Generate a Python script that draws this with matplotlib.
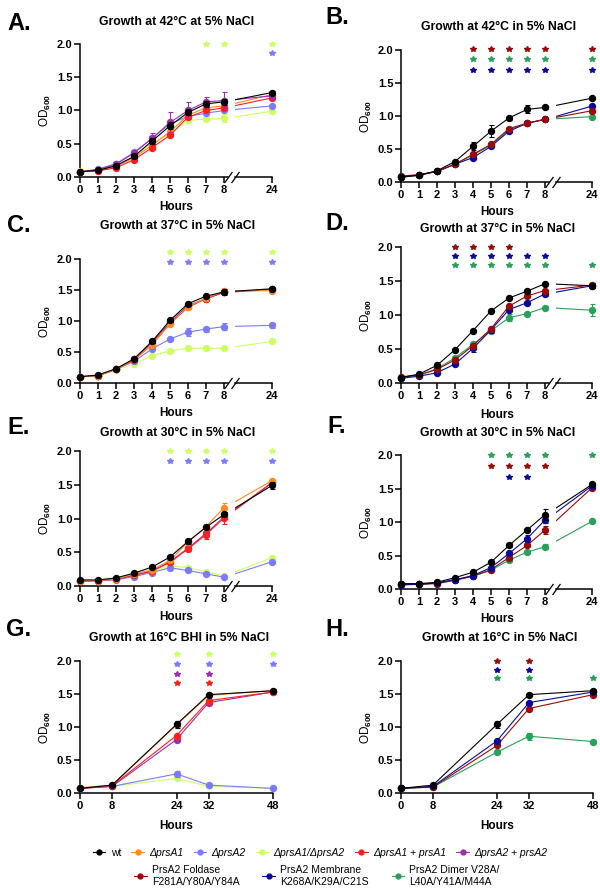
import matplotlib.pyplot as plt
from matplotlib.lines import Line2D
from matplotlib.ticker import FormatStrFormatter

plt.rcParams['font.family'] = ['Liberation Sans', 'DejaVu Sans']
plt.rcParams['font.weight'] = 'bold'
plt.rcParams['mathtext.fontset'] = 'custom'
plt.rcParams['mathtext.rm'] = 'Liberation Sans:bold'
plt.rcParams['mathtext.it'] = 'Liberation Sans:bold'
plt.rcParams['mathtext.bf'] = 'Liberation Sans:bold'

# ---------------- data ----------------
hours = [0, 1, 2, 3, 4, 5, 6, 7, 8, 24]
hours_cold = [0, 8, 24, 32, 48]

strain_labels = {
    "wt": "wt", "d1": "\u0394prsA1", "d2": "\u0394prsA2", "d12": "\u0394prsA1/\u0394prsA2",
    "d1c": "\u0394prsA1 + prsA1", "d2c": "\u0394prsA2 + prsA2",
    "fold": "PrsA2 Foldase\nF281A/Y80A/Y84A",
    "memb": "PrsA2 Membrane\nK268A/K29A/C21S",
    "dimer": "PrsA2 Dimer V28A/\nL40A/Y41A/M44A",
}
colors = {
    "wt": "#000000", "d1": "#FF8A1E", "d2": "#7B7BFF", "d12": "#CCFF66",
    "d1c": "#FF1E1E", "d2c": "#9B2FAE",
    "fold": "#9A0A0A", "memb": "#0A0A99", "dimer": "#2AA05A",
}

# Panel A - 42C, deletion strains
A_vals = {
    "d12": [0.09, 0.10, 0.17, 0.30, 0.51, 0.65, 0.85, 0.87, 0.88, 0.99],
    "d2":  [0.07, 0.12, 0.20, 0.37, 0.58, 0.80, 0.91, 0.96, 1.00, 1.07],
    "d1":  [0.08, 0.10, 0.16, 0.29, 0.48, 0.68, 0.93, 1.04, 1.07, 1.24],
    "d1c": [0.08, 0.09, 0.14, 0.26, 0.44, 0.63, 0.90, 1.00, 1.04, 1.19],
    "d2c": [0.08, 0.11, 0.19, 0.36, 0.58, 0.82, 1.00, 1.13, 1.15, 1.22],
    "wt":  [0.08, 0.10, 0.17, 0.31, 0.54, 0.77, 0.97, 1.10, 1.13, 1.27],
}
A_errs = {
    "d2c": [0, 0, 0.01, 0.02, 0.08, 0.15, 0.13, 0.08, 0.13, 0.02],
    "d12": [0, 0, 0, 0.01, 0.03, 0.03, 0.03, 0.03, 0.06, 0.02],
    "wt":  [0, 0, 0.01, 0.02, 0.05, 0.05, 0.04, 0.04, 0.05, 0.02],
}
A_stars = [("d12", [7, 8, 24]), ("d2", [24])]

# Panel B - 42C, point mutants
B_vals = {
    "dimer": [0.07, 0.10, 0.16, 0.27, 0.41, 0.56, 0.79, 0.89, 0.95, 0.99],
    "memb":  [0.07, 0.11, 0.16, 0.27, 0.37, 0.54, 0.77, 0.89, 0.95, 1.15],
    "fold":  [0.09, 0.11, 0.16, 0.27, 0.42, 0.57, 0.81, 0.89, 0.95, 1.08],
    "wt":    [0.08, 0.10, 0.17, 0.31, 0.54, 0.77, 0.97, 1.10, 1.13, 1.27],
}
B_errs = {"wt": [0, 0, 0.01, 0.03, 0.06, 0.09, 0.03, 0.06, 0.02, 0.02]}
B_stars = [("fold", [4, 5, 6, 7, 8, 24]), ("dimer", [4, 5, 6, 7, 8, 24]),
           ("memb", [4, 5, 6, 7, 8, 24])]

# Panel C - 37C, deletion strains
C_vals = {
    "d12": [0.10, 0.12, 0.21, 0.31, 0.44, 0.52, 0.56, 0.56, 0.56, 0.67],
    "d2":  [0.10, 0.12, 0.22, 0.35, 0.55, 0.71, 0.82, 0.87, 0.91, 0.93],
    "d2c": [0.10, 0.12, 0.22, 0.38, 0.65, 0.98, 1.25, 1.36, 1.46, 1.51],
    "d1c": [0.10, 0.12, 0.22, 0.37, 0.62, 0.96, 1.22, 1.36, 1.47, 1.51],
    "d1":  [0.10, 0.12, 0.22, 0.38, 0.62, 0.95, 1.23, 1.37, 1.48, 1.49],
    "wt":  [0.10, 0.13, 0.23, 0.39, 0.67, 1.01, 1.28, 1.40, 1.47, 1.52],
}
C_errs = {"d2": [0, 0, 0, 0.01, 0.02, 0.02, 0.06, 0.04, 0.05, 0.04],
          "wt": [0, 0, 0, 0.01, 0.02, 0.02, 0.02, 0.02, 0.05, 0.02]}
C_stars = [("d12", [5, 6, 7, 8, 24]), ("d2", [5, 6, 7, 8, 24])]

# Panel D - 37C, point mutants
D_vals = {
    "dimer": [0.08, 0.11, 0.21, 0.37, 0.57, 0.77, 0.96, 1.02, 1.11, 1.07],
    "memb":  [0.07, 0.10, 0.15, 0.28, 0.51, 0.78, 1.08, 1.18, 1.31, 1.43],
    "fold":  [0.09, 0.12, 0.20, 0.34, 0.55, 0.80, 1.13, 1.28, 1.36, 1.44],
    "wt":    [0.08, 0.13, 0.26, 0.49, 0.77, 1.06, 1.25, 1.35, 1.46, 1.43],
}
D_errs = {"dimer": [0, 0, 0, 0.02, 0.02, 0.02, 0.05, 0.02, 0.02, 0.09],
          "memb":  [0, 0, 0, 0.02, 0.05, 0.05, 0.02, 0.02, 0.03, 0.02],
          "wt":    [0, 0, 0, 0.01, 0.01, 0.01, 0.01, 0.03, 0.01, 0.04]}
D_stars = [("fold", [3, 4, 5, 6]), ("memb", [3, 4, 5, 6, 7, 8]),
           ("dimer", [3, 4, 5, 6, 7, 8, 24])]

# Panel E - 30C, deletion strains
E_vals = {
    "d12": [0.08, 0.08, 0.10, 0.15, 0.21, 0.30, 0.27, 0.21, 0.15, 0.42],
    "d2":  [0.07, 0.08, 0.09, 0.14, 0.20, 0.27, 0.23, 0.18, 0.13, 0.36],
    "d2c": [0.08, 0.08, 0.10, 0.16, 0.22, 0.36, 0.56, 0.78, 1.02, 1.53],
    "d1c": [0.07, 0.08, 0.10, 0.16, 0.22, 0.35, 0.55, 0.76, 1.01, 1.53],
    "d1":  [0.08, 0.08, 0.10, 0.18, 0.24, 0.38, 0.65, 0.88, 1.16, 1.56],
    "wt":  [0.09, 0.09, 0.12, 0.19, 0.28, 0.43, 0.66, 0.87, 1.06, 1.49],
}
E_errs = {"d1":  [0, 0, 0, 0, 0.01, 0.02, 0.03, 0.03, 0.07, 0.02],
          "d1c": [0, 0, 0, 0, 0.01, 0.02, 0.03, 0.06, 0.09, 0.02],
          "wt":  [0, 0, 0, 0, 0.01, 0.03, 0.04, 0.02, 0.03, 0.05]}
E_stars = [("d12", [5, 6, 7, 8, 24]), ("d2", [5, 6, 7, 8, 24])]

# Panel F - 30C, point mutants
F_vals = {
    "dimer": [0.07, 0.07, 0.09, 0.14, 0.19, 0.28, 0.43, 0.55, 0.63, 1.01],
    "fold":  [0.07, 0.07, 0.08, 0.13, 0.19, 0.29, 0.47, 0.65, 0.88, 1.51],
    "memb":  [0.06, 0.07, 0.09, 0.14, 0.20, 0.32, 0.53, 0.75, 1.03, 1.54],
    "wt":    [0.08, 0.08, 0.10, 0.17, 0.25, 0.40, 0.65, 0.88, 1.11, 1.56],
}
F_errs = {"wt":    [0, 0, 0, 0.01, 0.01, 0.01, 0.03, 0.03, 0.08, 0.02],
          "fold":  [0, 0, 0, 0, 0, 0.01, 0.02, 0.02, 0.06, 0.02],
          "memb":  [0, 0, 0, 0, 0, 0.01, 0.02, 0.05, 0.05, 0.02],
          "dimer": [0, 0, 0, 0, 0, 0.01, 0.02, 0.02, 0.04, 0.02]}
F_stars = [("dimer", [5, 6, 7, 8, 24]), ("fold", [5, 6, 7, 8]), ("memb", [6, 7])]

# Panel G - 16C BHI, deletion strains
G_vals = {
    "d12": [0.07, 0.10, 0.22, 0.10, 0.07],
    "d2":  [0.07, 0.10, 0.29, 0.12, 0.07],
    "d2c": [0.07, 0.10, 0.81, 1.37, 1.53],
    "d1c": [0.07, 0.11, 0.87, 1.40, 1.53],
    "d1":  [0.08, 0.12, 1.03, 1.48, 1.55],
    "wt":  [0.07, 0.12, 1.04, 1.49, 1.55],
}
G_errs = {"wt": [0, 0.01, 0.05, 0.02, 0.02], "d2": [0, 0, 0.05, 0.02, 0.01]}
G_stars = [("d12", [24, 32, 48]), ("d2", [24, 32, 48]), ("d2c", [24, 32]), ("d1c", [24, 32])]

# Panel H - 16C, point mutants
H_vals = {
    "dimer": [0.07, 0.09, 0.62, 0.86, 0.78],
    "fold":  [0.07, 0.09, 0.72, 1.28, 1.49],
    "memb":  [0.07, 0.10, 0.79, 1.37, 1.53],
    "wt":    [0.07, 0.12, 1.04, 1.49, 1.55],
}
H_errs = {"wt": [0, 0.01, 0.05, 0.02, 0.02], "dimer": [0, 0, 0.02, 0.05, 0.02]}
H_stars = [("fold", [24, 32]), ("memb", [24, 32]), ("dimer", [24, 32, 48])]

titles = {
    "A": "Growth at 42\u00b0C at 5% NaCl", "B": "Growth at 42\u00b0C in 5% NaCl",
    "C": "Growth at 37\u00b0C in 5% NaCl", "D": "Growth at 37\u00b0C in 5% NaCl",
    "E": "Growth at 30\u00b0C in 5% NaCl", "F": "Growth at 30\u00b0C in 5% NaCl",
    "G": "Growth at 16\u00b0C BHI in 5% NaCl", "H": "Growth at 16\u00b0C in 5% NaCl",
}

# ---------------- layout (pixels) ----------------
W, H = 600, 888
fig = plt.figure(figsize=(W / 100, H / 100), dpi=100)


def add_ax(l, r, t, b):
    return fig.add_axes([l / W, 1 - b / H, (r - l) / W, (b - t) / H])


def style(ax):
    for s in ['top', 'right']:
        ax.spines[s].set_visible(False)
    for s in ['left', 'bottom']:
        ax.spines[s].set_linewidth(1.1)
    ax.tick_params(direction='out', length=4, width=1.1, pad=1.5, labelsize=8)
    ax.set_ylim(0, 2)
    ax.set_yticks([0, 0.5, 1.0, 1.5, 2.0])
    ax.yaxis.set_major_formatter(FormatStrFormatter('%.1f'))


def series(ax, x, y, e, c, z, show_marker=True):
    cont = ax.errorbar(x, y, yerr=e, color=c, lw=0.8, marker='o' if show_marker else None,
                       ms=4.3, mec=c, mfc=c, elinewidth=0.8, capsize=1.8,
                       capthick=0.8, zorder=z)
    for a in cont.get_children():
        a.set_clip_on(False)


def stars(axes_for, rows, top, step):
    for i, (k, xs) in enumerate(rows):
        for x in xs:
            ax = axes_for(x)
            ax.plot([x], [top - i * step], ls='none', marker='*', ms=4.0,
                    color=colors[k], clip_on=False, zorder=10)


brk = dict(marker=[(-1, -1.4), (1, 1.4)], markersize=8, ls='none', color='k',
           mec='k', mew=0.9, clip_on=False)


def broken_panel(vals, errs, star_rows, col_x, top, bottom, star_top, star_step):
    l, r, l2, r2 = col_x
    axl = add_ax(l, r, top, bottom)
    axr = add_ax(l2, r2, top, bottom)
    style(axl)
    style(axr)
    axl.set_xlim(0, 8 * (r - l) / 144)
    axl.set_xticks(hours[:9])
    axr.set_xlim(11.5, 24)
    axr.set_xticks([24])
    axr.spines['left'].set_visible(False)
    axr.tick_params(axis='y', left=False, labelleft=False)
    for z, (k, y) in enumerate(vals.items()):
        e = errs.get(k, [0] * 10)
        series(axl, hours[:9], y[:9], e[:9], colors[k], 3 + z)
        axr.plot(hours[8:], y[8:], color=colors[k], lw=0.8, zorder=3 + z)
        series(axr, [24], [y[9]], [e[9]], colors[k], 3 + z)
    axl.plot([1], [0], transform=axl.transAxes, **brk)
    axr.plot([0], [0], transform=axr.transAxes, **brk)
    axl.set_ylabel('OD$_{600}$', fontsize=8.5, labelpad=3)
    stars(lambda x: axr if x > 8 else axl, star_rows, star_top, star_step)
    return axl


def cold_panel(vals, errs, star_rows, l, r, top, bottom, star_top, star_step):
    ax = add_ax(l, r, top, bottom)
    style(ax)
    ax.set_xlim(0, 48)
    ax.set_xticks(hours_cold)
    for z, (k, y) in enumerate(vals.items()):
        series(ax, hours_cold, y, errs.get(k, [0] * 5), colors[k], 3 + z)
    ax.set_ylabel('OD$_{600}$', fontsize=8.5, labelpad=3)
    stars(lambda x: ax, star_rows, star_top, star_step)
    return ax


col1 = (80, 228, 235, 272)
col2 = (401, 549, 556, 592)

broken_panel(A_vals, A_errs, A_stars, col1, 44, 177, 2.0, 0.135)
broken_panel(B_vals, B_errs, B_stars, col2, 50, 182, 2.02, 0.16)
broken_panel(C_vals, C_errs, C_stars, col1, 259, 383, 2.11, 0.16)
broken_panel(D_vals, D_errs, D_stars, col2, 247, 383, 2.0, 0.13)
broken_panel(E_vals, E_errs, E_stars, col1, 451, 586, 2.0, 0.145)
broken_panel(F_vals, F_errs, F_stars, col2, 455, 589, 2.0, 0.165)
cold_panel(G_vals, G_errs, G_stars, 80, 273, 661, 793, 2.10, 0.145)
cold_panel(H_vals, H_errs, H_stars, 401, 593, 661, 793, 2.0, 0.13)


def ftext(x, y, s, **kw):
    fig.text(x / W, 1 - y / H, s, ha='center', va='center', **kw)


title_pos = {"A": (177, 22), "B": (499, 27), "C": (178, 226), "D": (498, 229),
             "E": (178, 433), "F": (498, 433), "G": (179, 638), "H": (500, 638)}
letter_pos = {"A": (19, 23), "B": (337, 17), "C": (19, 226), "D": (337, 224),
              "E": (19, 428), "F": (337, 426), "G": (19, 630), "H": (337, 629)}
hours_pos = [(176, 207), (497, 212), (176, 413), (497, 415), (176, 617), (497, 619),
             (176, 826), (497, 826)]

for k in titles:
    ftext(*title_pos[k], titles[k], fontsize=8.8)
    ftext(*letter_pos[k], k + ".", fontsize=17)
for p in hours_pos:
    ftext(*p, "Hours", fontsize=8.5)

# ---------------- legend ----------------
def handle(k):
    return Line2D([0], [0], color=colors[k], lw=0.8, marker='o', ms=3.5)


row1 = ["wt", "d1", "d2", "d12", "d1c", "d2c"]
row2 = ["fold", "memb", "dimer"]
leg1 = fig.legend([handle(k) for k in row1], [strain_labels[k] for k in row1],
                  loc='center', bbox_to_anchor=(320 / W, 1 - 853 / H), ncol=6,
                  frameon=False, prop={'size': 7.5, 'weight': 'normal'},
                  handlelength=1.2, handletextpad=0.5, columnspacing=1.0)
for t in leg1.get_texts()[1:]:
    t.set_fontstyle('italic')
fig.legend([handle(k) for k in row2], [strain_labels[k] for k in row2],
           loc='center', bbox_to_anchor=(317 / W, 1 - 876 / H), ncol=3,
           frameon=False, prop={'size': 7.5, 'weight': 'normal'},
           handlelength=1.2, handletextpad=0.5, columnspacing=2.2)

fig.savefig('out.png', dpi=100)
